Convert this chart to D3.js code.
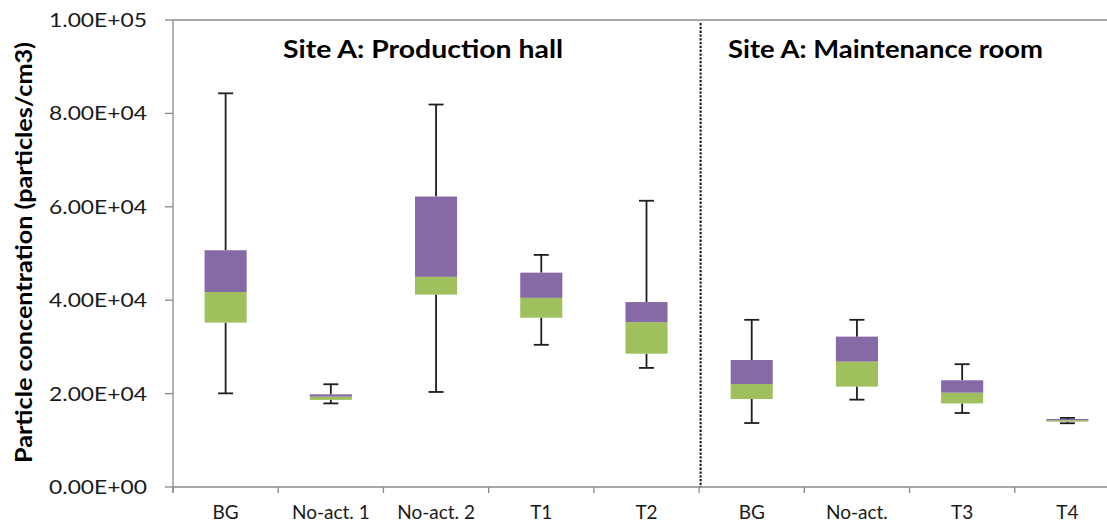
<!DOCTYPE html>
<html>
<head>
<meta charset="utf-8">
<script src="https://cdn.jsdelivr.net/npm/d3@7"></script>
<style>
  html, body { margin: 0; padding: 0; background: #fff; }
  svg { display: block; }
</style>
</head>
<body>
<svg id="chart" width="1107" height="523"></svg>
<script>
// ---- data ----
const categories = ["BG", "No-act. 1", "No-act. 2", "T1", "T2", "BG", "No-act.", "T3", "T4"];
const whiskerMax = [84300, 22000, 81900, 49700, 61300, 35800, 35800, 26300, 14800];
const q3Values   = [50700, 19850, 62200, 45900, 39600, 27200, 32200, 22850, 14560];
const medians    = [41750, 19350, 45000, 40500, 35300, 22050, 26850, 20200, 14280];
const q1Values   = [35200, 18650, 41200, 36250, 28550, 18850, 21500, 17900, 13980];
const whiskerMin = [20050, 17900, 20350, 30450, 25500, 13700, 18700, 15850, 13650];
const yTicks = [0, 20000, 40000, 60000, 80000, 100000];
const yTickLabels = ["0.00E+00", "2.00E+04", "4.00E+04", "6.00E+04", "8.00E+04", "1.00E+05"];
const sectionTitles = ["Site A: Production hall", "Site A: Maintenance room"];
const sectionStart = [0, 5];
const yAxisTitle = "Particle concentration (particles/cm3)";

// ---- layout ----
const svg = d3.select("#chart");
const plotLeft = 173, plotRight = 1120, plotTop = 20, plotBottom = 487;
const idx = categories.map((d, i) => i);

const x = d3.scaleBand().domain(idx).range([plotLeft, plotRight]).paddingInner(0.6).paddingOuter(0.3);
const y = d3.scaleLinear().domain([0, 100000]).range([plotBottom, plotTop]);
const step = x.step();
const bw = x.bandwidth();
const boundary = i => x(i) - step * x.paddingOuter();

const axisColor = "#8a8a8a";
const purple = "#866aa6";
const green = "#a0c05e";
const font = "Lato, 'Open Sans', sans-serif";

// top gridline at max
svg.append("line")
  .attr("x1", plotLeft).attr("x2", 1107)
  .attr("y1", y(100000)).attr("y2", y(100000))
  .attr("stroke", axisColor).attr("stroke-width", 1.3);

// y axis
svg.append("line")
  .attr("x1", plotLeft).attr("x2", plotLeft)
  .attr("y1", y(100000)).attr("y2", plotBottom + 6)
  .attr("stroke", axisColor).attr("stroke-width", 1.3);

svg.selectAll(".ytick").data(yTicks).enter().append("line")
  .attr("x1", plotLeft - 8).attr("x2", plotLeft)
  .attr("y1", d => y(d)).attr("y2", d => y(d))
  .attr("stroke", axisColor).attr("stroke-width", 1.3);

svg.selectAll(".ylab").data(yTicks).enter().append("text")
  .attr("x", 147).attr("y", d => y(d) + 7)
  .attr("text-anchor", "end")
  .attr("font-family", font).attr("font-size", 19)
  .attr("fill", "#1a1a1a")
  .attr("textLength", 98).attr("lengthAdjust", "spacingAndGlyphs")
  .text((d, i) => yTickLabels[i]);

// x axis
svg.append("line")
  .attr("x1", plotLeft).attr("x2", 1107)
  .attr("y1", plotBottom).attr("y2", plotBottom)
  .attr("stroke", axisColor).attr("stroke-width", 1.3);

svg.selectAll(".xtick").data(idx).enter().append("line")
  .attr("x1", d => boundary(d)).attr("x2", d => boundary(d))
  .attr("y1", plotBottom).attr("y2", plotBottom + 6)
  .attr("stroke", axisColor).attr("stroke-width", 1.3);

svg.selectAll(".xlab").data(idx).enter().append("text")
  .attr("x", d => x(d) + bw / 2).attr("y", 518.5)
  .attr("text-anchor", "middle")
  .attr("font-family", font).attr("font-size", 19)
  .attr("fill", "#1a1a1a")
  .text(d => categories[d]);

// section separator (dotted)
svg.append("line")
  .attr("x1", boundary(sectionStart[1]) + 1.5).attr("x2", boundary(sectionStart[1]) + 1.5)
  .attr("y1", plotTop + 3).attr("y2", plotBottom)
  .attr("stroke", "#111").attr("stroke-width", 2)
  .attr("stroke-dasharray", "2.3,1.5");

// whiskers
const wStroke = "#1e1e1e";
const g = svg.append("g");
idx.forEach(i => {
  const cx = x(i) + bw / 2;
  const capW = bw / 3;
  g.append("line").attr("x1", cx).attr("x2", cx)
    .attr("y1", y(whiskerMax[i])).attr("y2", y(q3Values[i]))
    .attr("stroke", wStroke).attr("stroke-width", 1.8);
  g.append("line").attr("x1", cx).attr("x2", cx)
    .attr("y1", y(q1Values[i])).attr("y2", y(whiskerMin[i]))
    .attr("stroke", wStroke).attr("stroke-width", 1.8);
  g.append("line").attr("x1", cx - capW / 2 - 0.5).attr("x2", cx + capW / 2 + 0.5)
    .attr("y1", y(whiskerMax[i])).attr("y2", y(whiskerMax[i]))
    .attr("stroke", wStroke).attr("stroke-width", 1.8);
  g.append("line").attr("x1", cx - capW / 2 - 0.5).attr("x2", cx + capW / 2 + 0.5)
    .attr("y1", y(whiskerMin[i])).attr("y2", y(whiskerMin[i]))
    .attr("stroke", wStroke).attr("stroke-width", 1.8);
});

// boxes: lower part (q1 -> median) green, upper (median -> q3) purple
svg.selectAll(".lower").data(idx).enter().append("rect")
  .attr("x", d => x(d)).attr("width", bw)
  .attr("y", d => y(medians[d])).attr("height", d => y(q1Values[d]) - y(medians[d]))
  .attr("fill", green);
svg.selectAll(".upper").data(idx).enter().append("rect")
  .attr("x", d => x(d)).attr("width", bw)
  .attr("y", d => y(q3Values[d])).attr("height", d => y(medians[d]) - y(q3Values[d]))
  .attr("fill", purple);

// section titles
const titleX = [283, 728];
const titleW = [280, 315];
sectionTitles.forEach((t, i) => {
  svg.append("text")
    .attr("x", titleX[i]).attr("y", 58)
    .attr("font-family", font).attr("font-weight", "bold").attr("font-size", 25)
    .attr("fill", "#000")
    .attr("textLength", titleW[i]).attr("lengthAdjust", "spacingAndGlyphs")
    .text(t);
});

// y axis title
svg.append("text")
  .attr("transform", "translate(32,252.5) rotate(-90)")
  .attr("text-anchor", "middle")
  .attr("font-family", font).attr("font-weight", "bold").attr("font-size", 22)
  .attr("fill", "#000")
  .attr("textLength", 421).attr("lengthAdjust", "spacingAndGlyphs")
  .text(yAxisTitle);
</script>
</body>
</html>
